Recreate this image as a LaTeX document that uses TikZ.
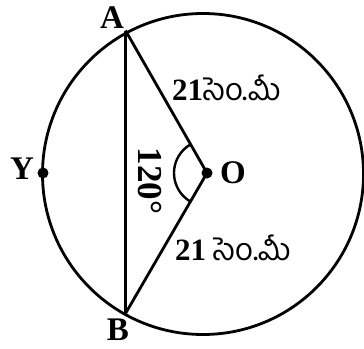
\documentclass[tikz,border=0pt]{standalone}
\usepackage{fontspec}
\setmainfont{Liberation Serif}
\newfontfamily\telugu[Script=Telugu]{Hind Guntur}
\begin{document}
\begin{tikzpicture}[x=1pt,y=-1pt,
  edge/.style={line width=2.8pt,draw=black},
  dot/.style={circle,fill=black,inner sep=0pt,minimum size=11pt},
  lbl/.style={font=\fontsize{33}{33}\selectfont\bfseries,inner sep=0pt},
  meas/.style={font=\fontsize{31}{31}\selectfont,inner sep=0pt}]
\useasboundingbox (0,0) rectangle (364,348);
\fill[white] (0,0) rectangle (364,348);
\coordinate (C) at (203,174);
\draw[edge] (C) circle (160.5);
\coordinate (A) at (125.5,30.5);
\coordinate (B) at (125.5,313.5);
\node[dot] (O) at (207,173) {};
\node[dot] (Y) at (43,173) {};
\draw[edge] (A) -- (B);
\draw[edge] (A) -- (O.center) -- (B);
\draw[line width=2.4pt] (O.center) ++(120:33) arc[start angle=120,end angle=240,radius=33];
\node[lbl] (lA) at (112,18) {A};
\node[lbl] (lB) at (118,330) {B};
\node[lbl] (lY) at (22,169) {Y};
\node[lbl] (lO) at (233,173) {O};
\node[meas,anchor=base west] (m1) at (172,100) {{\bfseries 21}{\telugu సెం.మీ}};
\node[meas,anchor=base west] (m2) at (175,260) {{\bfseries 21} {\telugu సెం.మీ}};
\node[font=\fontsize{35}{35}\selectfont\bfseries,inner sep=0pt,rotate=-90] (ang) at (150,181) {120°};
\end{tikzpicture}
\end{document}
